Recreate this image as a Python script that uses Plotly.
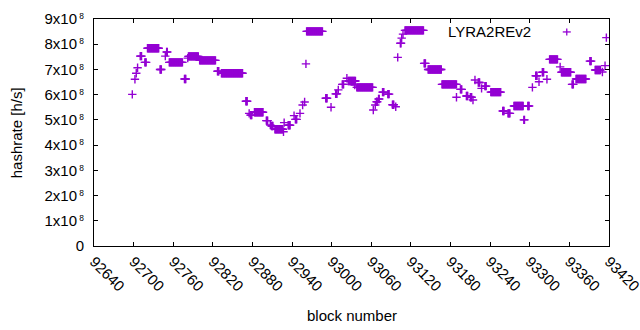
import plotly.graph_objects as go

# Runs of consecutive blocks sharing the same hashrate
run_start = [92698, 92702, 92704, 92706, 92710, 92717, 92721, 92740, 92748, 92750,
             92754, 92777, 92782, 92783, 92800, 92827, 92833, 92870, 92875, 92877,
             92883, 92901, 92907, 92909, 92914, 92927, 92928, 92934, 92943, 92945,
             92952, 92956, 92959, 92961, 92962, 92991, 92999, 93006, 93010, 93016,
             93023, 93025, 93035, 93038, 93063, 93066, 93068, 93071, 93077, 93085,
             93092, 93097, 93100, 93104, 93106, 93108, 93111, 93140, 93146, 93167,
             93189, 93195, 93204, 93210, 93214, 93217, 93222, 93227, 93232, 93241,
             93259, 93267, 93276, 93291, 93297, 93304, 93309, 93314, 93319, 93326,
             93330, 93346, 93348, 93364, 93370, 93391, 93399, 93410, 93414, 93416]
run_end = [92698, 92702, 92704, 92706, 92712, 92719, 92738, 92742, 92748, 92751,
           92774, 92779, 92782, 92798, 92824, 92829, 92865, 92872, 92875, 92879,
           92896, 92903, 92907, 92911, 92926, 92927, 92928, 92937, 92943, 92947,
           92952, 92956, 92959, 92961, 92986, 92993, 92999, 93008, 93010, 93018,
           93023, 93036, 93035, 93062, 93063, 93066, 93069, 93072, 93079, 93087,
           93094, 93097, 93100, 93105, 93106, 93108, 93139, 93142, 93166, 93189,
           93189, 93197, 93206, 93212, 93214, 93217, 93224, 93227, 93234, 93256,
           93261, 93270, 93290, 93292, 93299, 93304, 93311, 93314, 93321, 93326,
           93342, 93346, 93362, 93366, 93385, 93393, 93407, 93410, 93414, 93416]
run_hashrate = [6.01e8, 6.61e8, 6.85e8, 7.07e8, 7.53e8, 7.28e8, 7.84e8, 7.00e8, 7.53e8, 7.69e8,
                7.28e8, 6.62e8, 7.45e8, 7.52e8, 7.36e8, 6.93e8, 6.85e8, 5.74e8, 5.26e8, 5.19e8,
                5.30e8, 4.97e8, 4.80e8, 4.76e8, 4.63e8, 4.53e8, 4.89e8, 4.79e8, 5.17e8, 5.02e8,
                5.26e8, 5.59e8, 5.71e8, 7.22e8, 8.51e8, 5.86e8, 5.50e8, 6.03e8, 6.19e8, 6.41e8,
                6.65e8, 6.54e8, 6.38e8, 6.29e8, 5.39e8, 5.59e8, 5.72e8, 5.83e8, 6.10e8, 6.02e8,
                5.60e8, 5.52e8, 7.48e8, 8.04e8, 8.24e8, 8.40e8, 8.55e8, 7.24e8, 7.00e8, 6.41e8,
                5.90e8, 6.21e8, 5.95e8, 5.90e8, 5.79e8, 6.58e8, 6.48e8, 6.25e8, 6.34e8, 6.10e8,
                5.35e8, 5.26e8, 5.55e8, 5.00e8, 5.55e8, 6.29e8, 6.75e8, 6.51e8, 6.89e8, 6.61e8,
                7.40e8, 7.10e8, 6.89e8, 6.41e8, 6.62e8, 7.33e8, 6.98e8, 6.90e8, 7.15e8, 8.26e8]

x_ticks = [92640, 92700, 92760, 92820, 92880, 92940, 93000, 93060, 93120, 93180,
           93240, 93300, 93360, 93420]
y_ticks = [0, 1e8, 2e8, 3e8, 4e8, 5e8, 6e8, 7e8, 8e8, 9e8]
y_ticktext = ["0"] + [f"{i}x10<span style='font-size:12px'><sup> 8</sup></span>" for i in range(1, 10)]
series_name = "LYRA2REv2"

blocks, rates = [], []
for s, e, v in zip(run_start, run_end, run_hashrate):
    for b in range(s, e + 1):
        blocks.append(b)
        rates.append(v)

COLOR = "#9400D3"
FONT = "Liberation Sans, Arial, sans-serif"

fig = go.Figure()
fig.add_trace(go.Scatter(
    x=blocks, y=rates, mode="markers", name=series_name, showlegend=False,
    marker=dict(symbol="cross-thin", size=6, color=COLOR,
                line=dict(color=COLOR, width=1.4)),
))

axis_common = dict(showline=True, linecolor="black", linewidth=1, mirror="ticks",
                   ticks="inside", ticklen=4, tickcolor="black", tickwidth=1,
                   showgrid=False, zeroline=False, automargin=False,
                   ticklabeloverflow="allow",
                   tickfont=dict(family=FONT, size=15, color="black"))

fig.update_xaxes(range=[92640, 93420], tickvals=x_ticks,
                 ticktext=[str(t) for t in x_ticks], tickangle=45, **axis_common)
fig.update_yaxes(range=[0, 9e8], tickvals=y_ticks, ticktext=y_ticktext,
                 ticklabelstandoff=6, **axis_common)

fig.update_layout(
    width=640, height=330,
    margin=dict(l=94, r=31, t=19, b=84),
    paper_bgcolor="white", plot_bgcolor="white",
    font=dict(family=FONT, size=15, color="black"),
    showlegend=False,
    annotations=[
        dict(text="block number", xref="paper", yref="paper", x=0.5, y=-0.304,
             xanchor="center", yanchor="middle", showarrow=False,
             font=dict(family=FONT, size=15, color="black")),
        dict(text="hashrate [h/s]", xref="paper", yref="paper", x=-0.15, y=0.5,
             xanchor="center", yanchor="middle", textangle=-90, showarrow=False,
             font=dict(family=FONT, size=15, color="black")),
        dict(text=series_name, xref="paper", yref="paper", x=0.852, y=0.943,
             xanchor="right", yanchor="middle", showarrow=False,
             font=dict(family=FONT, size=15, color="black")),
    ],
    shapes=[
        dict(type="line", xref="paper", yref="paper", x0=0.918 - 0.0078, x1=0.918 + 0.0078,
             y0=0.943, y1=0.943, line=dict(color=COLOR, width=1.3)),
        dict(type="line", xref="paper", yref="paper", x0=0.918, x1=0.918,
             y0=0.943 - 0.0154, y1=0.943 + 0.0154, line=dict(color=COLOR, width=1.3)),
    ],
)

fig.write_html("out.html", config={"displayModeBar": False},
               post_script="document.body.style.margin='0px';document.body.style.overflow='hidden';")
